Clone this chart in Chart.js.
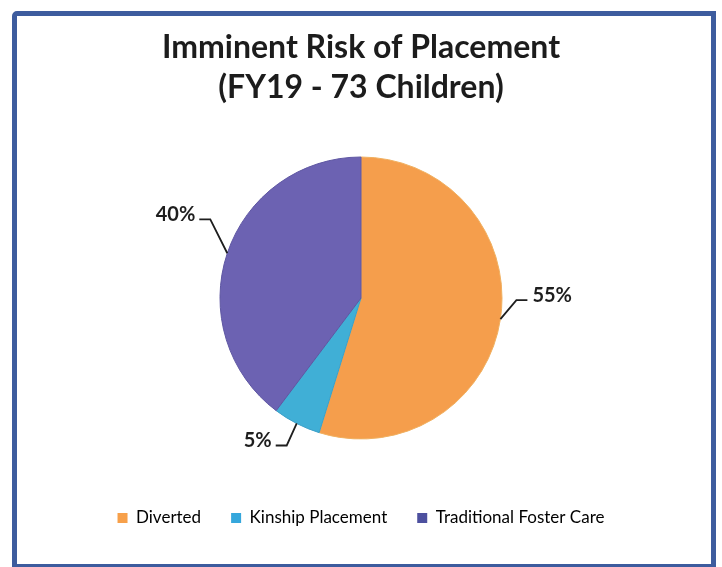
<!DOCTYPE html>
<html>
<head>
<meta charset="utf-8">
<script src="https://cdn.jsdelivr.net/npm/chart.js@4.4.1/dist/chart.umd.min.js"></script>
<style>
  body { margin: 0; background: #fff; }
  #wrap { position: relative; width: 722px; height: 567px; overflow: hidden; }
  #frame {
    position: absolute; left: 12px; top: 11px; width: 694px; height: 548px;
    border: 5px solid #3d5c9e; border-top-left-radius: 5px; pointer-events: none;
  }
  canvas { position: absolute; left: 0; top: 0; }
</style>
</head>
<body>
<div id="wrap">
  <canvas id="graph" width="722" height="567"></canvas>
  <div id="frame"></div>
</div>
<script>
var titleLines = ['Imminent Risk of Placement', '(FY19 - 73 Children)'];
var categories = ['Diverted', 'Kinship Placement', 'Traditional Foster Care'];
var children = [40, 4, 29];
var colors = ['#f59e4c', '#40afd6', '#6c62b2'];
var edges = ['#f0b060', '#3a9fc8', '#5e56a2'];
var legendColors = ['#f7a04a', '#35a7dc', '#4d509f'];

// where each leader line bends, relative to the slice edge
var bends = [[16, -19], [-10, 22], [-17, -34]];

var leaderLabels = {
  id: 'leaderLabels',
  afterDatasetsDraw(chart) {
    var ctx = chart.ctx;
    var meta = chart.getDatasetMeta(0);
    var data = chart.data.datasets[0].data;
    var total = data.reduce((a, b) => a + b, 0);
    ctx.save();
    ctx.strokeStyle = '#1e1e1e';
    ctx.lineWidth = 1.8;
    ctx.fillStyle = '#1e1e1e';
    ctx.font = 'bold 20px Lato';
    ctx.textBaseline = 'alphabetic';
    meta.data.forEach((arc, i) => {
      var p = arc.getProps(['x', 'y', 'startAngle', 'endAngle', 'outerRadius'], true);
      var mid = (p.startAngle + p.endAngle) / 2;
      var ex = p.x + Math.cos(mid) * p.outerRadius;
      var ey = p.y + Math.sin(mid) * p.outerRadius;
      var bx = ex + bends[i][0];
      var by = ey + bends[i][1];
      var right = Math.cos(mid) > 0;
      var hx = bx + (right ? 11 : -11);
      ctx.beginPath();
      ctx.moveTo(ex, ey);
      ctx.lineTo(bx, by);
      ctx.lineTo(hx, by);
      ctx.stroke();
      var txt = Math.round(data[i] / total * 100) + '%';
      ctx.textAlign = right ? 'left' : 'right';
      ctx.fillText(txt, hx + (right ? 5 : -4), by + 2);
    });
    ctx.restore();
  }
};

var ctx = document.getElementById('graph').getContext('2d');
var chart = new Chart(ctx, {
  type: 'pie',
  data: {
    labels: categories,
    datasets: [{
      data: children,
      backgroundColor: colors,
      borderColor: edges,
      borderWidth: 1,
      radius: 141
    }]
  },
  options: {
    responsive: false,
    animation: false,
    layout: { padding: { left: 0, right: 0, top: 0, bottom: 30.5 } },
    plugins: {
      title: {
        display: true,
        text: titleLines,
        color: '#1c1c1c',
        font: { family: 'Lato', size: 32, weight: 'bold', lineHeight: 1.25 },
        padding: { top: 28, bottom: 8.5 }
      },
      legend: {
        position: 'bottom',
        labels: {
          color: '#222',
          font: { family: 'Lato', size: 17 },
          boxWidth: 10,
          boxHeight: 10,
          padding: 30,
          generateLabels(chart) {
            return chart.data.labels.map((l, i) => ({
              text: l, fillStyle: legendColors[i], strokeStyle: legendColors[i], lineWidth: 0, index: i
            }));
          }
        }
      },
      tooltip: { enabled: false }
    }
  },
  plugins: [leaderLabels]
});
</script>
</body>
</html>
